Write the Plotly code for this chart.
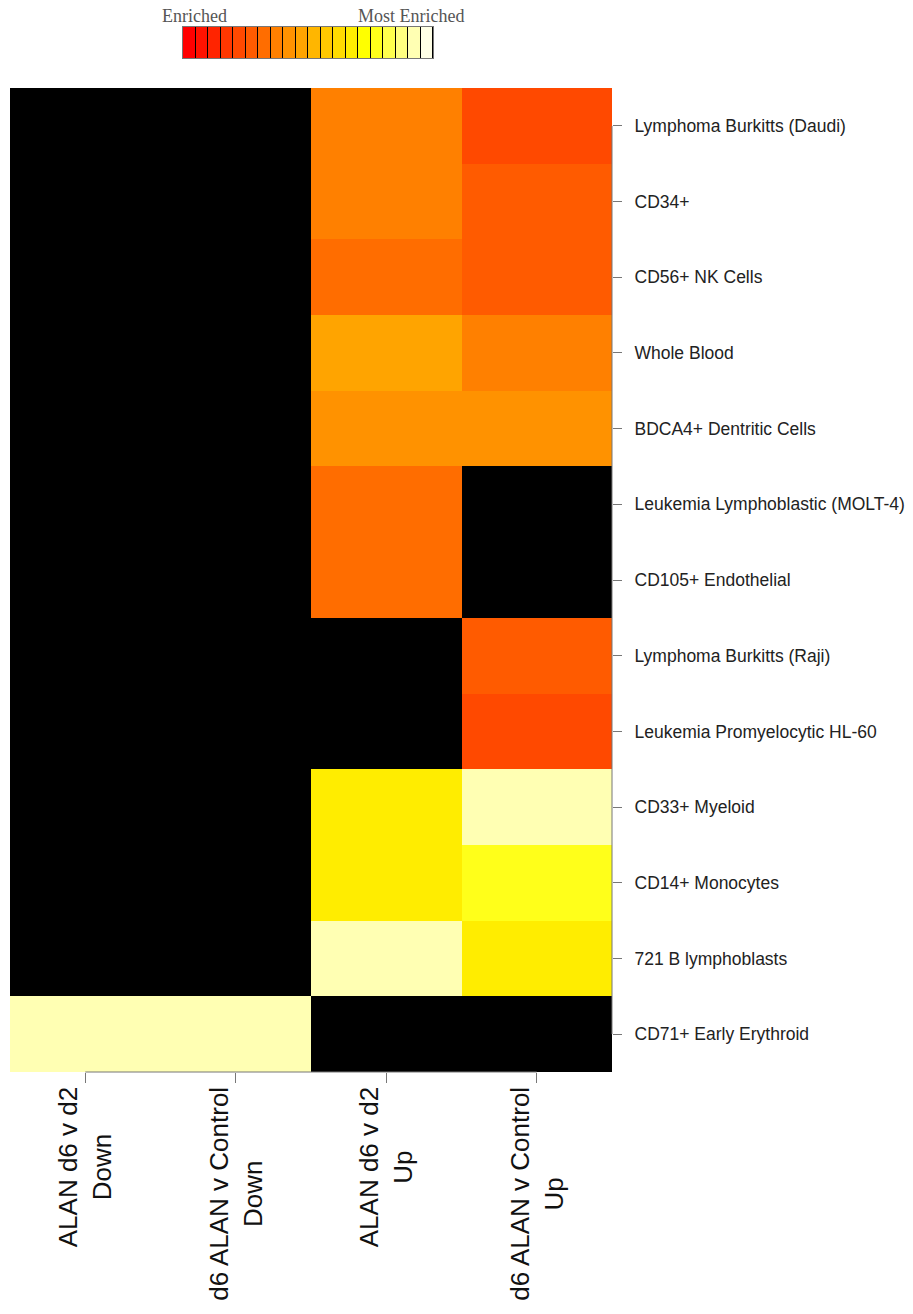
import plotly.graph_objects as go

# ---- data ----
rows = [
    "Lymphoma Burkitts (Daudi)", "CD34+", "CD56+ NK Cells", "Whole Blood",
    "BDCA4+ Dentritic Cells", "Leukemia Lymphoblastic (MOLT-4)", "CD105+ Endothelial",
    "Lymphoma Burkitts (Raji)", "Leukemia Promyelocytic HL-60", "CD33+ Myeloid",
    "CD14+ Monocytes", "721 B lymphoblasts", "CD71+ Early Erythroid",
]
columns = [
    "ALAN d6 v d2<br>Down",
    "d6 ALAN v Control<br>Down",
    "ALAN d6 v d2<br>Up",
    "d6 ALAN v Control<br>Up",
]
# enrichment level (1 = Enriched ... 20 = Most Enriched); None = not enriched (black)
down_d6_v_d2 = [None, None, None, None, None, None, None, None, None, None, None, None, 19]
down_d6_v_ctrl = [None, None, None, None, None, None, None, None, None, None, None, None, 19]
up_d6_v_d2 = [8, 8, 7, 10, 9, 7, 7, None, None, 14, 14, 19, None]
up_d6_v_ctrl = [5, 6, 6, 8, 9, None, None, 6, 5, 19, 16, 14, None]
levels = list(range(1, 21))
legend_low = "Enriched"
legend_high = "Most Enriched"

# ---- palette (heat colours, 20 steps) ----
heat = ["#FF0000", "#FF1200", "#FF2400", "#FF3700", "#FF4900", "#FF5B00", "#FF6D00",
        "#FF8000", "#FF9200", "#FFA400", "#FFB600", "#FFC800", "#FFDB00", "#FFED00",
        "#FFFF00", "#FFFF1A", "#FFFF4D", "#FFFF80", "#FFFFB3", "#FFFFE6"]
n = len(heat)
colorscale = []
for i, c in enumerate(heat):
    colorscale.append([i / n, c])
    colorscale.append([(i + 1) / n, c])

series = [down_d6_v_d2, down_d6_v_ctrl, up_d6_v_d2, up_d6_v_ctrl]
z = [[s[r] for s in series] for r in range(len(rows))]
xs = list(range(len(columns)))

fig = go.Figure()
fig.add_trace(go.Heatmap(
    z=z, x=xs, y=rows, colorscale=colorscale, zmin=0.5, zmax=n + 0.5,
    showscale=False, hoverongaps=False, xaxis="x", yaxis="y",
))
fig.add_trace(go.Heatmap(
    z=[levels], x=list(range(n)), y=[0], colorscale=colorscale, zmin=0.5, zmax=n + 0.5,
    showscale=False, xgap=1, xaxis="x2", yaxis="y2",
))

W, H = 913, 1314
ml, mt = 10, 10
plot_right, plot_bottom = 612, 1072
mr, mb = W - plot_right, H - plot_bottom
ph = plot_bottom - mt
main_top = (1072 - 88) / ph
cb_dom = [(1072 - 58) / ph, (1072 - 27) / ph]
pw = plot_right - ml
cbx = [(183 - 10) / pw, (433 - 10) / pw]

fig.update_layout(
    width=W, height=H,
    margin=dict(l=ml, r=mr, t=mt, b=mb, autoexpand=False),
    paper_bgcolor="white", plot_bgcolor="black",
    showlegend=False,
    xaxis=dict(domain=[0, 1], range=[-0.5, len(columns) - 0.5], tickvals=xs,
               showticklabels=False, ticks="outside", ticklen=10, tickcolor="#777",
               showgrid=False, zeroline=False, fixedrange=True, automargin=False),
    yaxis=dict(domain=[0, main_top], autorange="reversed", side="right",
               ticks="outside", ticklen=9, tickcolor="#777", ticklabelstandoff=9,
               tickfont=dict(family="Liberation Sans, Arial", size=17.5, color="#222"),
               showgrid=False, zeroline=False, automargin=False),
    xaxis2=dict(domain=cbx, anchor="y2", range=[-0.5, n - 0.5], showticklabels=False,
                showgrid=False, zeroline=False, ticks="", showline=True, mirror=True,
                linecolor="#777", linewidth=1, automargin=False),
    yaxis2=dict(domain=cb_dom, anchor="x2", range=[-0.5, 0.5], showticklabels=False,
                showgrid=False, zeroline=False, ticks="", showline=True, mirror=True,
                linecolor="#777", linewidth=1, automargin=False),
)

# axis lines from first to last tick (R style)
fig.add_shape(type="line", xref="x", yref="paper", x0=xs[0], x1=xs[-1], y0=0, y1=0,
              line=dict(color="#777", width=1))
fig.add_shape(type="line", xref="paper", yref="y", x0=1, x1=1, y0=rows[0], y1=rows[-1],
              line=dict(color="#777", width=1))

# column labels (rotated, two lines)
for xi, lab in zip(xs, columns):
    fig.add_annotation(x=xi, xref="x", y=0, yref="paper", yshift=-13,
                       text=lab, textangle=-90, showarrow=False,
                       xanchor="center", yanchor="top", align="center",
                       font=dict(family="Liberation Sans, Arial", size=26, color="#111"))

# colour key labels
fig.add_annotation(x=0, xref="x2", y=0.5, yref="y2", xshift=5, yshift=-1,
                   text=legend_low, showarrow=False, xanchor="center", yanchor="bottom",
                   font=dict(family="Liberation Serif, Times New Roman", size=18, color="#555"))
fig.add_annotation(x=n - 1, xref="x2", y=0.5, yref="y2", xshift=-16, yshift=-1,
                   text=legend_high, showarrow=False, xanchor="center", yanchor="bottom",
                   font=dict(family="Liberation Serif, Times New Roman", size=18, color="#555"))

fig.write_html("out.html", config={"displayModeBar": False},
               post_script="document.body.style.margin='0px';")
